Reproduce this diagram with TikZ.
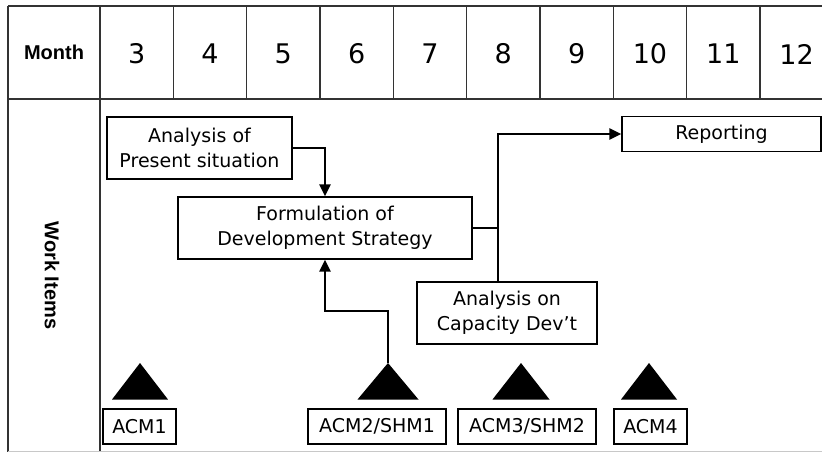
\documentclass[tikz,border=0pt]{standalone}
\usepackage{fontspec}
\setmainfont{DejaVu Sans}
\newfontfamily\headfont{Liberation Sans}
\usetikzlibrary{arrows.meta, positioning}
\definecolor{GridGray}{HTML}{333333}
\definecolor{EdgeGray}{HTML}{C8C8C8}

\begin{document}
\begin{tikzpicture}[
    x=1pt, y=-1pt,
    grid/.style={draw=GridGray, line width=1.5pt},
    head/.style={font=\headfont\bfseries\fontsize{20}{24}\selectfont},
    monthnum/.style={font=\fontsize{27}{30}\selectfont},
    task/.style={draw=black, line width=1.3pt, fill=white, align=center, inner sep=0pt, minimum height=62pt, font=\fontsize{19}{25}\selectfont},
    milestone/.style={draw=black, line width=1.3pt, minimum height=35pt, inner xsep=9pt, inner ysep=0pt, font=\fontsize{19}{23}\selectfont},
    link/.style={line width=2.8pt},
    arrow/.style={link, -{Triangle[length=12pt, width=11pt]}}
]
    \useasboundingbox (0,0) rectangle (822,452);

    % table frame
    \draw[grid] (8,6) -- (822,6);
    \draw[grid] (8,99) -- (822,99);
    \draw[grid] (8,6) -- (8,452);
    \draw[grid] (100,6) -- (100,452);
    \draw[EdgeGray, line width=1pt] (8,451) -- (822,451);
    \foreach \k in {1,...,9}
        \draw[grid] (100+73.33*\k,6) -- (100+73.33*\k,99);

    % header
    \node[head] (month) at (54,52.5) {Month};
    \foreach \m [count=\i] in {3,...,12}
        \node[monthnum] (col\m) at (100+73.33*\i-36.67,54) {\m};
    \node[head, rotate=-90] (workitems) at (52,275.5) {Work Items};

    % work items
    \node[task, minimum width=185pt] (present) at (199.5,148) {Analysis of\\Present situation};
    \node[task, minimum width=294pt] (strategy) at (325,228) {Formulation of\\Development Strategy};
    \node[task, minimum width=180pt] (capacity) at (507,313) {Analysis on\\Capacity Dev’t};
    \node[task, minimum width=199pt, minimum height=35pt] (reporting) at (721.5,134) {Reporting};

    % milestones
    \foreach \x/\w/\n in {140/28/1, 388/30.5/2, 521/28.5/3, 649/28/4}
        \fill (\x,363) coordinate (tri\n) -- (\x+\w,399.5) -- (\x-\w,399.5) -- cycle;
    \node[milestone, minimum width=73pt] (acm1) at (139.5,426.5) {ACM1};
    \node[milestone, minimum width=138pt] (acm2) at (377,426.5) {ACM2/SHM1};
    \node[milestone, minimum width=138pt] (acm3) at (527,426.5) {ACM3/SHM2};
    \node[milestone, minimum width=73pt] (acm4) at (650.5,426.5) {ACM4};

    % connectors
    \coordinate (bend) at (388,311);
    \coordinate (join) at (498,228);
    \draw[arrow] (present.east) -| (strategy.north);
    \draw[arrow] (tri2) -- (bend) -| (strategy.south);
    \draw[link] (strategy.east) -- (join);
    \draw[arrow] (capacity.north -| join) |- (reporting.west);
\end{tikzpicture}
\end{document}
